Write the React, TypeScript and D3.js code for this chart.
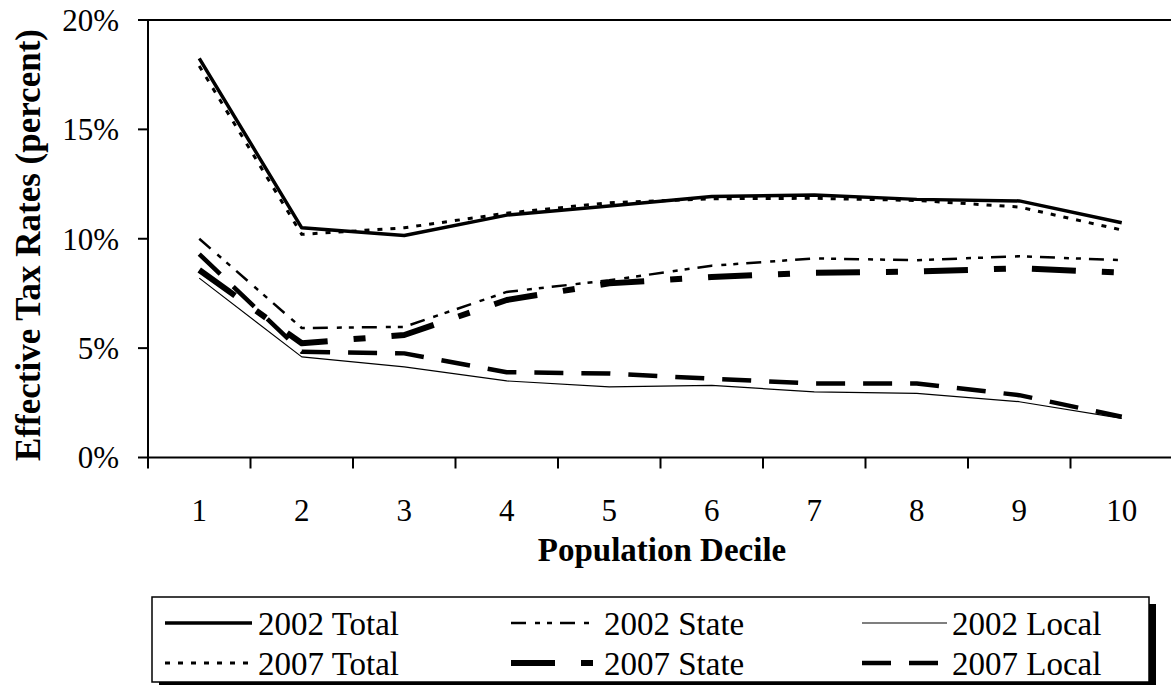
import React from "react";
import * as d3 from "d3";

const deciles = ["1", "2", "3", "4", "5", "6", "7", "8", "9", "10"];
const total2002 = [18.25, 10.5, 10.15, 11.08, 11.5, 11.93, 12.0, 11.8, 11.73, 10.73];
const total2007 = [17.9, 10.2, 10.5, 11.17, 11.65, 11.83, 11.85, 11.75, 11.45, 10.4];
const state2002 = [10.0, 5.92, 5.97, 7.57, 8.1, 8.77, 9.1, 9.02, 9.2, 9.02];
const state2007 = [8.57, 5.22, 5.6, 7.2, 7.96, 8.25, 8.45, 8.5, 8.65, 8.45];
const local2002 = [8.2, 4.6, 4.14, 3.5, 3.23, 3.3, 3.0, 2.93, 2.55, 1.79];
const local2007 = [9.3, 4.83, 4.76, 3.9, 3.84, 3.6, 3.38, 3.38, 2.85, 1.86];
const yTicks = [0, 5, 10, 15, 20];

const seriesNames = ["2002 Total", "2007 Total", "2002 State", "2007 State", "2002 Local", "2007 Local"];

const W = 1171;
const H = 685;
const FONT = "'Liberation Serif', 'Times New Roman', serif";

type Style = { width: number; dash: string | undefined };
const styles: Record<string, Style> = {
  "2002 Total": { width: 3.5, dash: undefined },
  "2007 Total": { width: 3, dash: "5 8" },
  "2002 State": { width: 2.5, dash: "15 9 5 7 5 8" },
  "2007 State": { width: 6, dash: "44 26 12 26" },
  "2002 Local": { width: 1.2, dash: undefined },
  "2007 Local": { width: 4.5, dash: "29 18" },
};

export default function App() {
  const left = 148;
  const top = 20;
  const bottom = 457.5;
  const x = d3.scaleBand<string>().domain(deciles).range([left, left + 102.5 * 10]).padding(0);
  const y = d3.scaleLinear().domain([0, 20]).range([bottom, top]);
  const cx = (d: string) => (x(d) as number) + x.bandwidth() / 2;

  const seriesValues: Record<string, number[]> = {
    "2002 Total": total2002,
    "2007 Total": total2007,
    "2002 State": state2002,
    "2007 State": state2007,
    "2002 Local": local2002,
    "2007 Local": local2007,
  };

  const line = d3
    .line<number>()
    .x((_, i) => cx(deciles[i]))
    .y((v) => y(v));

  const drawOrder = ["2002 Local", "2007 Local", "2002 State", "2007 State", "2007 Total", "2002 Total"];

  // legend layout
  const legendBox = { x: 152, y: 597, w: 997, h: 85 };
  const legendCols = [
    { x1: 165, x2: 252, tx: 258 },
    { x1: 511, x2: 595, tx: 604 },
    { x1: 862, x2: 947, tx: 952 },
  ];
  const legendRows = [623, 663];
  const legendItems = [
    { name: seriesNames[0], col: 0, row: 0 },
    { name: seriesNames[2], col: 1, row: 0 },
    { name: seriesNames[4], col: 2, row: 0 },
    { name: seriesNames[1], col: 0, row: 1 },
    { name: seriesNames[3], col: 1, row: 1 },
    { name: seriesNames[5], col: 2, row: 1 },
  ];

  const boundaries = deciles.map((d) => x(d) as number).concat([left + 102.5 * 10]);

  return (
    <svg
      width={W}
      height={H}
      style={{ position: "absolute", left: 0, top: 0, background: "#fff" }}
      fontFamily={FONT}
    >
      <rect x={0} y={0} width={W} height={H} fill="#fff" />
      {/* series */}
      {drawOrder.map((name) => (
        <path
          key={name}
          d={line(seriesValues[name]) || ""}
          fill="none"
          stroke="#000"
          strokeWidth={styles[name].width}
          strokeDasharray={styles[name].dash}
          strokeLinejoin="round"
        />
      ))}
      {/* plot frame top */}
      <line x1={left} x2={W + 5} y1={top} y2={top} stroke="#000" strokeWidth={2} />
      {/* y axis */}
      <line x1={left} x2={left} y1={top} y2={bottom} stroke="#000" strokeWidth={2} />
      {yTicks.map((t) => (
        <g key={t}>
          <line x1={left - 10} x2={left} y1={y(t)} y2={y(t)} stroke="#000" strokeWidth={2} />
          <text x={119} y={y(t)} dy="0.35em" textAnchor="end" fontSize={31}>
            {t}%
          </text>
        </g>
      ))}
      {/* x axis */}
      <line x1={left} x2={W + 5} y1={bottom} y2={bottom} stroke="#000" strokeWidth={2} />
      {boundaries.map((b, i) => (
        <line key={i} x1={b} x2={b} y1={bottom} y2={bottom + 11} stroke="#000" strokeWidth={2} />
      ))}
      {deciles.map((d) => (
        <text key={d} x={cx(d)} y={510} dy="0.35em" textAnchor="middle" fontSize={31}>
          {d}
        </text>
      ))}
      <text x={662} y={549} dy="0.35em" textAnchor="middle" fontSize={33} fontWeight="bold">
        Population Decile
      </text>
      <text
        transform={`translate(28, 245) rotate(-90)`}
        textAnchor="middle"
        dy="0.35em"
        fontSize={35}
        fontWeight="bold"
      >
        Effective Tax Rates (percent)
      </text>
      {/* legend */}
      <rect x={legendBox.x + 7} y={legendBox.y + 7} width={legendBox.w} height={legendBox.h} fill="#000" />
      <rect
        x={legendBox.x}
        y={legendBox.y}
        width={legendBox.w}
        height={legendBox.h}
        fill="#fff"
        stroke="#000"
        strokeWidth={1.5}
      />
      {legendItems.map((it) => {
        const c = legendCols[it.col];
        const ry = legendRows[it.row];
        const s = styles[it.name];
        return (
          <g key={it.name}>
            <line
              x1={c.x1}
              x2={c.x2}
              y1={ry}
              y2={ry}
              stroke="#000"
              strokeWidth={s.width}
              strokeDasharray={s.dash}
            />
            <text x={c.tx} y={ry} dy="0.35em" fontSize={33}>
              {it.name}
            </text>
          </g>
        );
      })}
    </svg>
  );
}
